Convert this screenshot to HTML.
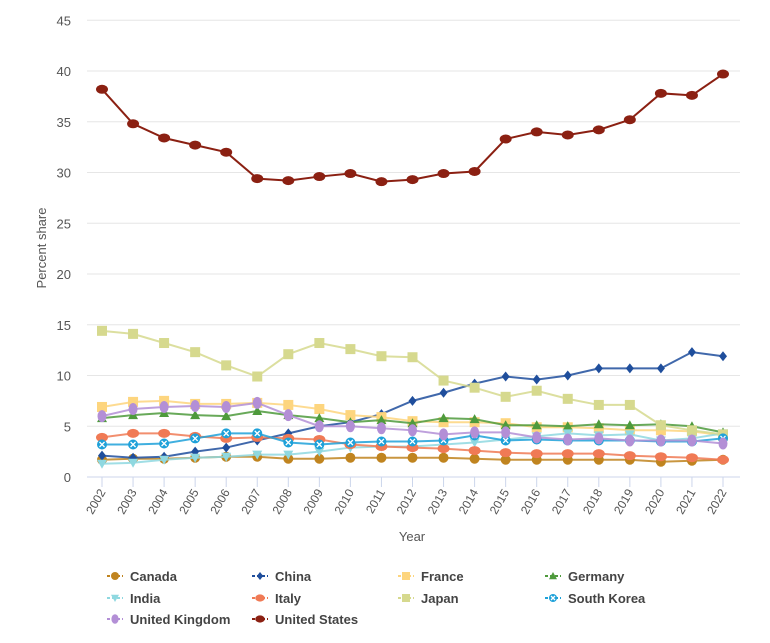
<!DOCTYPE html>
<html><head><meta charset="utf-8">
<style>
html,body{margin:0;padding:0;background:#fff;}
body{width:770px;height:638px;overflow:hidden;font-family:"Liberation Sans",sans-serif;}
</style></head>
<body>
<svg id="chart" width="770" height="638" xmlns="http://www.w3.org/2000/svg">
<g id="grid"></g><g id="axes"></g><g id="series"></g><g id="legend"></g>
</svg>
<script>
const years = [2002,2003,2004,2005,2006,2007,2008,2009,2010,2011,2012,2013,2014,2015,2016,2017,2018,2019,2020,2021,2022];
const yTicks = [0,5,10,15,20,25,30,35,40,45];
const seriesNames = ["Canada","China","France","Germany","India","Italy","Japan","South Korea","United Kingdom","United States"];
const canada = [1.7,1.8,1.8,1.9,2.0,2.0,1.8,1.8,1.9,1.9,1.9,1.9,1.8,1.7,1.7,1.7,1.7,1.7,1.5,1.6,1.7];
const china = [2.1,1.9,2.0,2.5,2.9,3.6,4.3,5.0,5.4,6.2,7.5,8.3,9.2,9.9,9.6,10.0,10.7,10.7,10.7,12.3,11.9];
const france = [6.9,7.4,7.5,7.2,7.2,7.3,7.1,6.7,6.1,5.9,5.5,5.4,5.4,5.3,4.9,4.9,4.8,4.6,4.6,4.5,4.1];
const germany = [5.8,6.1,6.3,6.1,6.0,6.5,6.1,5.8,5.4,5.6,5.3,5.8,5.7,5.1,5.1,5.0,5.2,5.1,5.2,5.0,4.4];
const india = [1.3,1.4,1.7,1.9,2.0,2.2,2.2,2.5,2.9,3.0,3.0,3.2,3.4,3.7,4.0,4.3,4.1,4.2,3.6,3.8,4.3];
const italy = [3.9,4.3,4.3,4.0,3.8,3.9,3.8,3.7,3.2,3.0,2.9,2.8,2.6,2.4,2.3,2.3,2.3,2.1,2.0,1.9,1.7];
const japan = [14.4,14.1,13.2,12.3,11.0,9.9,12.1,13.2,12.6,11.9,11.8,9.5,8.8,7.9,8.5,7.7,7.1,7.1,5.1,4.6,4.2];
const southKorea = [3.2,3.2,3.3,3.8,4.3,4.3,3.4,3.2,3.4,3.5,3.5,3.6,4.1,3.6,3.7,3.6,3.6,3.6,3.5,3.5,3.8];
const uk = [6.0,6.7,6.9,7.0,6.9,7.3,6.1,5.0,5.0,4.8,4.6,4.2,4.4,4.4,3.9,3.7,3.8,3.6,3.6,3.6,3.3];
const us = [38.2,34.8,33.4,32.7,32.0,29.4,29.2,29.6,29.9,29.1,29.3,29.9,30.1,33.3,34.0,33.7,34.2,35.2,37.8,37.6,39.7];
const seriesValues = [canada,china,france,germany,india,italy,japan,southKorea,uk,us];
const colors = ["#c0841f","#1f4e9c","#fdd57e","#4e9a3c","#8fd8e0","#f07a55","#d6d98e","#1ea1d9","#b38fd6","#8b2012"];
const markers = ["circle","diamond","square","triangle","tridown","ellipse","square","xcircle","ellipseV","ellipse"];

const NS="http://www.w3.org/2000/svg";
function xs(i){return 102 + i*31.05;}
function ys(v){return 477 - v*10.15;}
function mk(tag,attrs,parent){const e=document.createElementNS(NS,tag);for(const k in attrs)e.setAttribute(k,attrs[k]);parent.appendChild(e);return e;}
const grid=document.getElementById('grid'),axes=document.getElementById('axes'),ser=document.getElementById('series'),leg=document.getElementById('legend');

yTicks.forEach(t=>{
  const l=mk('line',{x1:87,x2:740,y1:ys(t),y2:ys(t),stroke:t===0?'#ccd6eb':'#e6e6e6','stroke-width':1},grid);
  
  
  const tx=mk('text',{x:71,y:ys(t)+5,'text-anchor':'end','font-size':13,fill:'#555'},axes);
  tx.textContent=t;
  
  
});
years.forEach((yr,i)=>{
  const x=xs(i);
  const tk=mk('line',{x1:x,x2:x,y1:477,y2:487,stroke:'#ccd6eb'},axes);
  
  
  const tx=mk('text',{x:x+4,y:492,'text-anchor':'end','font-size':12,fill:'#555',transform:`rotate(-60 ${x+4} 492)`},axes);
  tx.textContent=yr;
  
  
});
const yt=mk('text',{x:46,y:248,'text-anchor':'middle','font-size':13,fill:'#555',transform:'rotate(-90 46 248)'},axes);
yt.textContent='Percent share';


const xt=mk('text',{x:412,y:541,'text-anchor':'middle','font-size':13,fill:'#555'},axes);
xt.textContent='Year';



function marker(type,x,y,c,parent,s){
  s=s||1;let e;
  if(type==='circle') e=mk('circle',{cx:x,cy:y,r:5*s,fill:c},parent);
  else if(type==='diamond') e=mk('path',{d:`M${x} ${y-5*s}L${x+4*s} ${y}L${x} ${y+5*s}L${x-4*s} ${y}Z`,fill:c},parent);
  else if(type==='square') e=mk('rect',{x:x-5*s,y:y-5*s,width:10*s,height:10*s,fill:c},parent);
  else if(type==='triangle') e=mk('path',{d:`M${x} ${y-5*s}L${x+5*s} ${y+4*s}L${x-5*s} ${y+4*s}Z`,fill:c},parent);
  else if(type==='tridown') e=mk('path',{d:`M${x} ${y+5*s}L${x+5*s} ${y-4*s}L${x-5*s} ${y-4*s}Z`,fill:c},parent);
  else if(type==='ellipse') e=mk('ellipse',{cx:x,cy:y,rx:6*s,ry:4.5*s,fill:c},parent);
  else if(type==='ellipseV') e=mk('ellipse',{cx:x,cy:y,rx:4.5*s,ry:6*s,fill:c},parent);
  else if(type==='xcircle'){ e=mk('g',{},parent); mk('circle',{cx:x,cy:y,r:5*s,fill:c},e);
    mk('path',{d:`M${x-2.5*s} ${y-2.5*s}L${x+2.5*s} ${y+2.5*s}M${x+2.5*s} ${y-2.5*s}L${x-2.5*s} ${y+2.5*s}`,stroke:'#fff','stroke-width':1.3},e);}
  return e;
}

seriesValues.forEach((vals,si)=>{
  const g=mk('g',{},ser);
  
  
  const pts=vals.map((v,i)=>xs(i)+','+ys(v)).join(' ');
  const pl=mk('polyline',{points:pts,fill:'none',stroke:colors[si],'stroke-width':2,'stroke-opacity':si===9?1:0.85},g);
  
  
  vals.forEach((v,i)=>{
    const m=marker(markers[si],xs(i),ys(v),colors[si],g);
    
    
  });
});

const legX=[107,252,398,545], legY=[576,598,619];
seriesNames.forEach((n,i)=>{
  const x=legX[i%4], y=legY[Math.floor(i/4)];
  const g=mk('g',{},leg);
  
  
  mk('line',{x1:x,x2:x+16,y1:y,y2:y,stroke:colors[i],'stroke-width':2,'stroke-dasharray':'3,2'},g);
  marker(markers[i],x+8,y,colors[i],g,0.8);
  const t=mk('text',{x:x+23,y:y+5,'font-size':13,'font-weight':'bold',fill:'#444'},g);
  t.textContent=n;
});
</script>
</body></html>
